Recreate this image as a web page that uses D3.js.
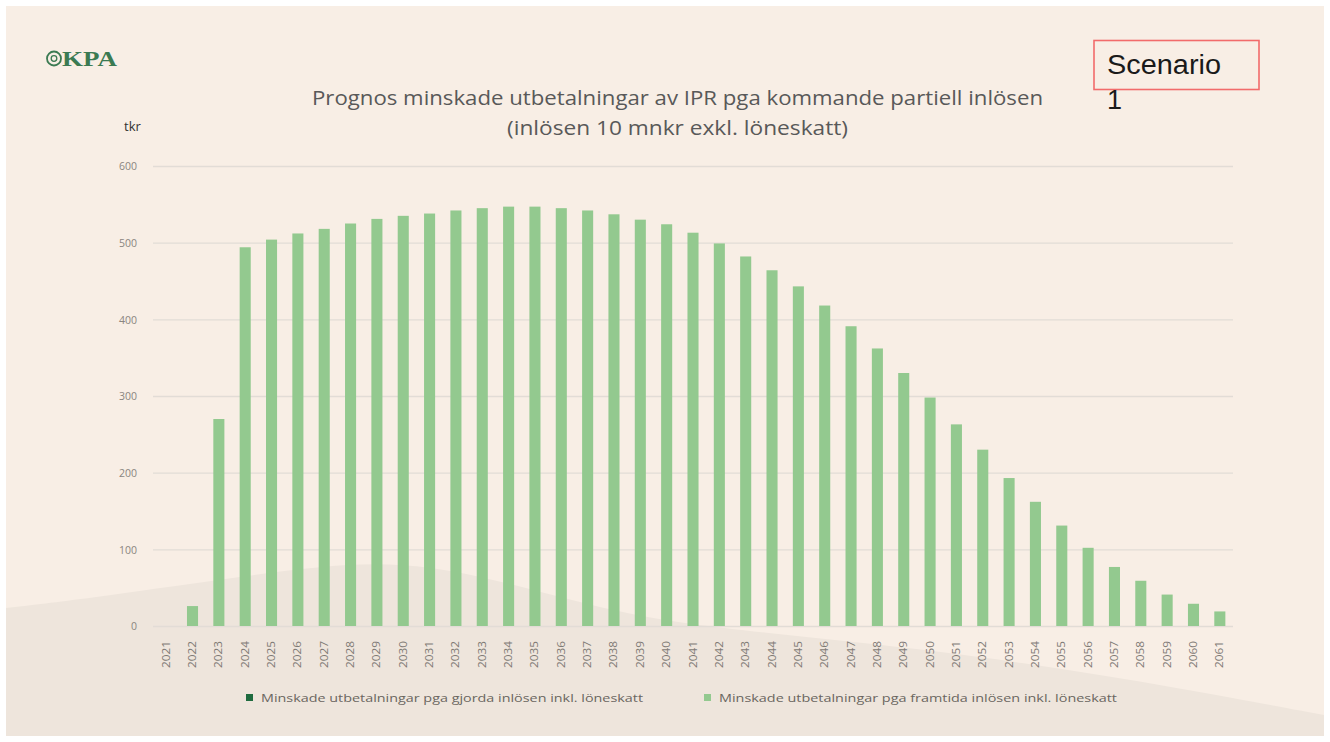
<!DOCTYPE html>
<html><head><meta charset="utf-8">
<script src="https://cdn.jsdelivr.net/npm/d3@7"></script>
<style>html,body{margin:0;padding:0;background:#fff;}svg{display:block;}</style>
</head><body>
<svg id="c" width="1330" height="742"></svg>
<script>
const years = d3.range(2021, 2062).map(String);
const seriesNames = [
  "Minskade utbetalningar pga gjorda inlösen inkl. löneskatt",
  "Minskade utbetalningar pga framtida inlösen inkl. löneskatt"
];
const madeRedemption = years.map(() => 0);
const futureRedemption = [0, 26, 270, 494, 504, 512, 518, 525, 531, 535, 538, 542, 545, 547, 547, 545, 542, 537, 530, 524, 513, 499, 482, 464, 443, 418, 391, 362, 330, 298, 263, 230, 193, 162, 131, 102, 77, 59, 41, 29, 19];
const yTicks = [0, 100, 200, 300, 400, 500, 600];
const titleLines = ["Prognos minskade utbetalningar av IPR pga kommande partiell inlösen", "(inlösen 10 mnkr exkl. löneskatt)"];
const colors = ["#1f6b3f", "#93c98f"];

const svg = d3.select("#c");
// slide background
svg.append("rect").attr("x", 6).attr("y", 6).attr("width", 1318).attr("height", 730).attr("fill", "#f8eee5");
const wave = [[6,608],[100,597],[250,575],[380,559],[480,575],[580,603],[673,624],[860,642],[1023,662],[1180,688],[1324,715]];
const line = d3.line().curve(d3.curveBasis);
svg.append("path").attr("d", line(wave) + "L1324,736L6,736Z").attr("fill", "#eee5dc");

// logo
const logo = svg.append("g").attr("fill", "#3b7a52");
logo.append("circle").attr("cx", 54).attr("cy", 58.5).attr("r", 7).attr("fill", "none").attr("stroke", "#3b7a52").attr("stroke-width", 1.8);
logo.append("circle").attr("cx", 54).attr("cy", 58.5).attr("r", 2.8).attr("fill", "none").attr("stroke", "#3b7a52").attr("stroke-width", 1.3);
logo.append("text").attr("x", 62).attr("y", 66).attr("font-family", "Liberation Serif, DejaVu Serif, serif").attr("font-size", 21).attr("font-weight", 600).attr("textLength", 55).attr("lengthAdjust", "spacingAndGlyphs").text("KPA");

// scenario box
svg.append("rect").attr("x", 1094).attr("y", 40.5).attr("width", 165).attr("height", 49).attr("fill", "none").attr("stroke", "#f26b6b").attr("stroke-width", 1.6);
svg.append("text").attr("x", 1107).attr("y", 74).attr("font-family", "Liberation Sans, Arial, sans-serif").attr("font-size", 27).attr("fill", "#1a1a1a")
  .attr("textLength", 114).attr("lengthAdjust", "spacingAndGlyphs").text("Scenario");
svg.append("text").attr("x", 1107).attr("y", 109).attr("font-family", "Liberation Sans, Arial, sans-serif").attr("font-size", 27).attr("fill", "#1a1a1a").text("1");

// title
const titleW = [731, 341];
titleLines.forEach((t, i) => {
  svg.append("text").attr("x", 677.5).attr("y", 105 + i * 30).attr("text-anchor", "middle")
    .attr("font-family", "Open Sans, sans-serif").attr("font-size", 20).attr("fill", "#595959")
    .attr("textLength", titleW[i]).attr("lengthAdjust", "spacingAndGlyphs").text(t);
});
svg.append("text").attr("x", 124).attr("y", 131).attr("font-family", "Open Sans, sans-serif").attr("font-size", 13).attr("fill", "#333").text("tkr");

// scales
const x = d3.scaleBand().domain(years).range([153, 1233]).paddingInner(0.58).paddingOuter(0.29);
const y = d3.scaleLinear().domain([0, 600]).range([626, 166]);

// grid
const grid = svg.append("g").attr("transform", "translate(153,0)")
  .call(d3.axisLeft(y).tickValues(yTicks).tickSize(-1080).tickFormat(""));
grid.select(".domain").remove();
grid.selectAll(".tick line").attr("stroke", "#e2dcd6").attr("stroke-width", 1.3);

const yAxis = svg.append("g").attr("transform", "translate(137,0)")
  .call(d3.axisLeft(y).tickValues(yTicks).tickSize(0).tickPadding(0));
yAxis.select(".domain").remove();
yAxis.selectAll("text").attr("font-family", "Open Sans, sans-serif").attr("font-size", 10.5).attr("fill", "#8a8580").attr("dy", "0.35em");

// bars (stacked: made + future)
const stack = years.map((yr, i) => ({yr, a: madeRedemption[i], b: futureRedemption[i]}));
svg.append("g").selectAll("rect").data(stack).join("rect")
  .attr("x", d => x(d.yr)).attr("width", x.bandwidth())
  .attr("y", d => y(d.a)).attr("height", d => y(0) - y(d.a)).attr("fill", colors[0]);
svg.append("g").selectAll("rect").data(stack).join("rect")
  .attr("x", d => x(d.yr)).attr("width", x.bandwidth())
  .attr("y", d => y(d.a + d.b)).attr("height", d => y(d.a) - y(d.a + d.b)).attr("fill", colors[1]);

// x axis labels
const xAxis = svg.append("g").attr("transform", "translate(0,626)")
  .call(d3.axisBottom(x).tickSize(0).tickPadding(0));
xAxis.select(".domain").remove();
xAxis.selectAll("text").attr("font-family", "Open Sans, sans-serif").attr("font-size", 10).attr("fill", "#7f7a75")
  .attr("text-anchor", "end").attr("transform", "translate(0,15) rotate(-90)").attr("dy", "0.35em").attr("x", 0).attr("y", 0)
  .attr("textLength", 27).attr("lengthAdjust", "spacingAndGlyphs");

// legend
const legX = [246, 704];
const legW = [382, 398];
seriesNames.forEach((n, i) => {
  svg.append("rect").attr("x", legX[i]).attr("y", 694).attr("width", 7).attr("height", 7).attr("fill", colors[i]);
  svg.append("text").attr("x", legX[i] + 15).attr("y", 701.5).attr("font-family", "Open Sans, sans-serif").attr("font-size", 11)
    .attr("fill", "#6a6560").attr("textLength", legW[i]).attr("lengthAdjust", "spacingAndGlyphs").text(n);
});
</script>
</body></html>
